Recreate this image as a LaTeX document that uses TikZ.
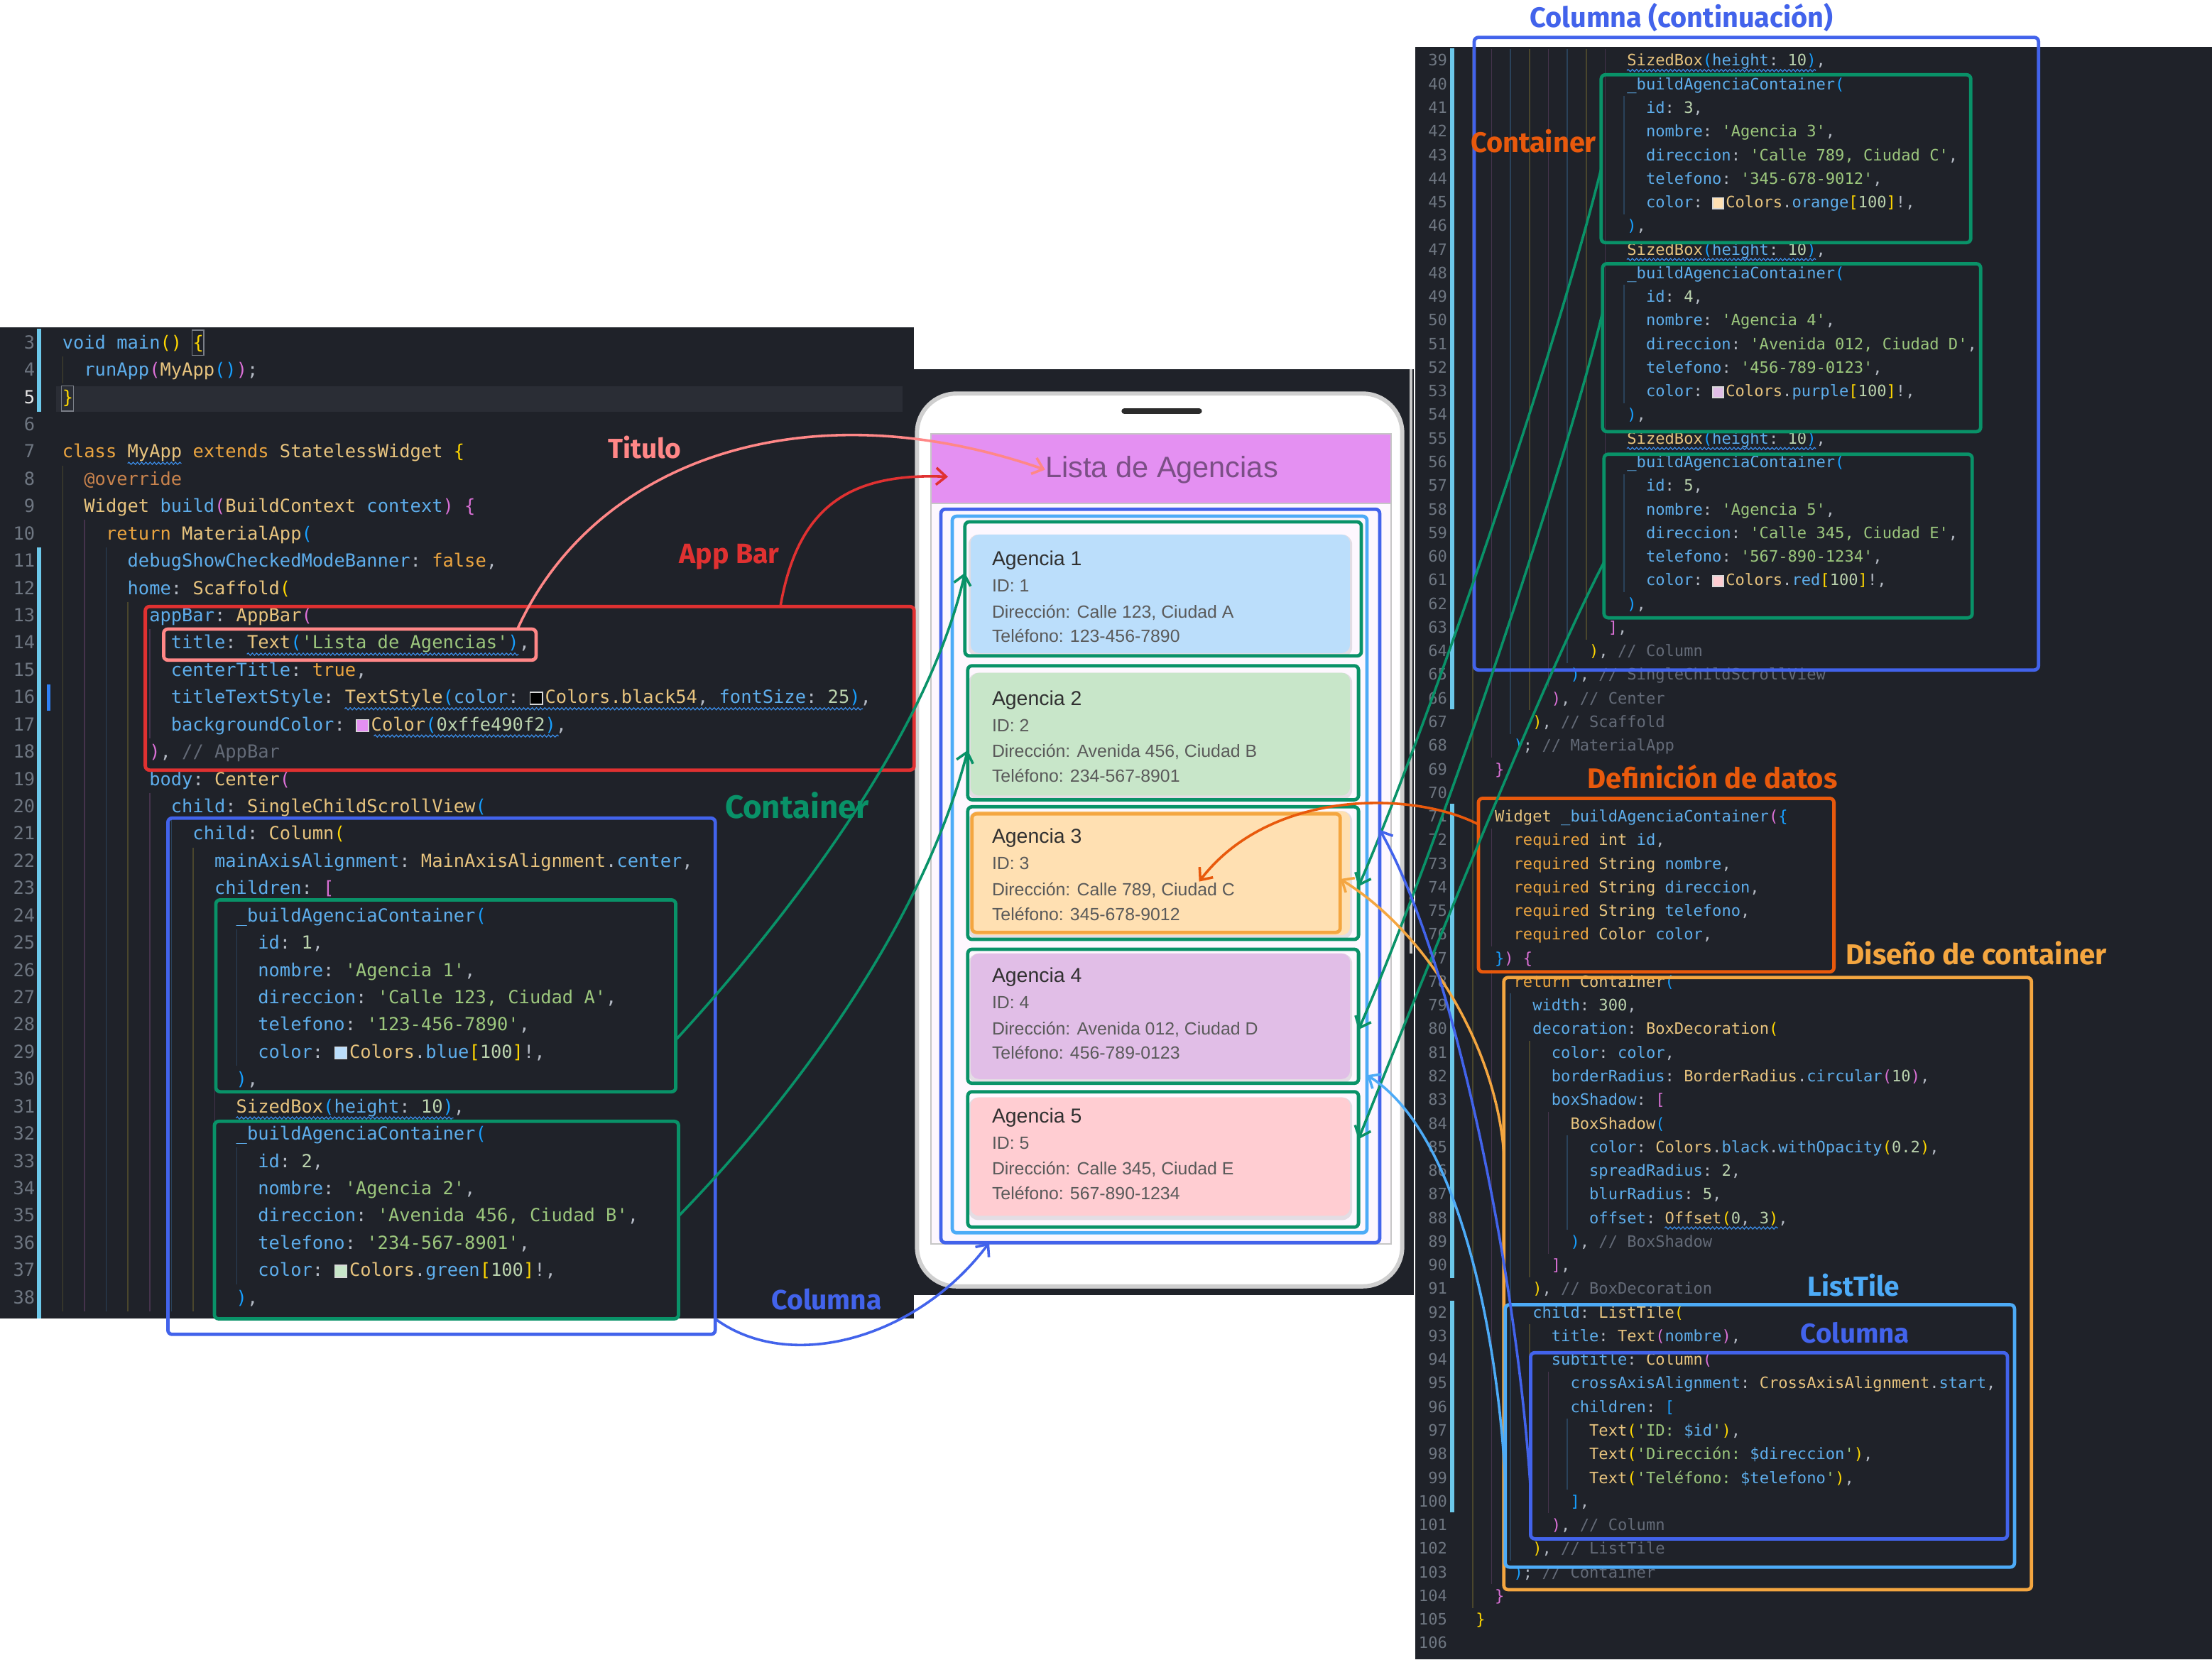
\documentclass[tikz,border=0pt]{standalone}
\usepackage{fontspec}
\usepackage{graphicx}
\setmonofont{DejaVu Sans Mono}
\newfontfamily\handfont{Fira Sans}
\newfontfamily\uifont{Liberation Sans}
\usetikzlibrary{arrows.meta,calc,decorations.pathmorphing}

\definecolor{codebg}{HTML}{1F2229}
\definecolor{curline}{HTML}{2A2D35}
\definecolor{cid}{HTML}{5EAEEC}
\definecolor{ctype}{HTML}{E8C47E}
\definecolor{ckw}{HTML}{ECA540}
\definecolor{cstr}{HTML}{9CC77D}
\definecolor{cnum}{HTML}{BBD3AE}
\definecolor{ccom}{HTML}{646B78}
\definecolor{ctext}{HTML}{B4BAC4}
\definecolor{cann}{HTML}{C9834D}
\definecolor{bgold}{HTML}{FFD700}
\definecolor{borch}{HTML}{DA70D6}
\definecolor{bblue}{HTML}{179FFF}
\definecolor{lnum}{HTML}{6E7681}
\definecolor{lnumact}{HTML}{E6E6E6}
\definecolor{cbar}{HTML}{6CC8EA}
\definecolor{cbartwo}{HTML}{2F81F7}
\definecolor{ggold}{HTML}{4A462C}
\definecolor{gpur}{HTML}{45334C}
\definecolor{gblu}{HTML}{2A425A}
\definecolor{swb}{HTML}{D8D8D8}
\definecolor{wavyc}{HTML}{3B8EEA}
\definecolor{matchc}{HTML}{7A7F88}
\definecolor{csalmon}{HTML}{FF8787}
\definecolor{cred}{HTML}{E03131}
\definecolor{cgreen}{HTML}{099268}
\definecolor{cblue}{HTML}{4263EB}
\definecolor{clblue}{HTML}{4DABF7}
\definecolor{corange}{HTML}{E8590C}
\definecolor{clorange}{HTML}{F4A640}
\definecolor{appbarc}{HTML}{E490F2}
\definecolor{apptitlec}{HTML}{7B4F86}
\definecolor{bodyc}{HTML}{FDF7FE}
\definecolor{phoneedge}{HTML}{CFCFCF}
\definecolor{notchc}{HTML}{2B2B2B}
\definecolor{c1fill}{HTML}{BBDEFB}
\definecolor{c2fill}{HTML}{C8E6C9}
\definecolor{c3fill}{HTML}{FFE0B2}
\definecolor{c4fill}{HTML}{E1BEE7}
\definecolor{c5fill}{HTML}{FFCDD2}
\definecolor{ctitlec}{HTML}{303030}
\definecolor{csubc}{HTML}{5A5A5A}
\definecolor{stripc}{HTML}{C8C8C8}

\newcommand\kB[1]{\textcolor{cid}{#1}}
\newcommand\kY[1]{\textcolor{ctype}{#1}}
\newcommand\kK[1]{\textcolor{ckw}{#1}}
\newcommand\kS[1]{\textcolor{cstr}{#1}}
\newcommand\kN[1]{\textcolor{cnum}{#1}}
\newcommand\kC[1]{\textcolor{ccom}{#1}}
\newcommand\kA[1]{\textcolor{cann}{#1}}
\newcommand\bG[1]{\textcolor{bgold}{#1}}
\newcommand\bO[1]{\textcolor{borch}{#1}}
\newcommand\bU[1]{\textcolor{bblue}{#1}}
\newcommand\sw[1]{\raisebox{-0.3pt}{\setlength{\fboxsep}{0pt}\setlength{\fboxrule}{0.7pt}\fcolorbox{swb}{#1}{\rule{0pt}{0.62em}\hspace{0.62em}}}\hspace{0.12em}}

\newcommand\lcode[3]{\node[codeL] (l#1) at ({44+#2*7.705},{243+(#1-3)*19.343+4.3}) {#3};}
\newcommand\rcode[3]{\node[codeR] (r#1) at ({1046+#2*6.7},{43+(#1-39)*16.746+3.8}) {#3};}
\newcommand\gL[4]{\draw[guide,#4] ({44.5+#1*15.41},{243+(#2-3)*19.343-9.7}) -- ({44.5+#1*15.41},{243+(#3-3)*19.343+9.7});}
\newcommand\gR[4]{\draw[guide,#4] ({1044+#1*13.4},{43+(#2-39)*16.746-8.4}) -- ({1044+#1*13.4},{43+(#3-39)*16.746+8.4});}
\newcommand\bx[6]{\node[#6,anchor=north west,minimum width={#4pt-#2pt},minimum height={#5pt-#3pt},inner sep=0pt,outer sep=0pt] (#1) at (#2,#3) {};}
\newcommand\crd[4]{%
  \node[ctitle] (t#1) at (703,{#2+5}) {Agencia #1};
  \node[csub] (i#1) at (703,{#2+19+4.5}) {ID: #1};
  \node[csub] (d#1) at (703,{#2+37.5+4.5}) {Dirección: #3};
  \node[csub] (p#1) at (703,{#2+55+4.5}) {Teléfono: #4};}
\newcommand\shd[4]{\fill[black,opacity=0.10,rounded corners=7pt] ({#1-1.5},{#2}) rectangle ({#3+1.5},{#4+3});}

\begin{document}
\begin{tikzpicture}[x=1pt,y=-1pt,
  codeL/.style={anchor=base west, inner sep=0pt, text=ctext, font=\ttfamily\fontsize{12.8}{15}\selectfont},
  codeR/.style={anchor=base west, inner sep=0pt, text=ctext, font=\ttfamily\fontsize{11.13}{13}\selectfont},
  lnumL/.style={anchor=base east, inner sep=0pt, text=lnum, font=\ttfamily\fontsize{12.8}{15}\selectfont},
  lnumR/.style={anchor=base east, inner sep=0pt, text=lnum, font=\ttfamily\fontsize{11.13}{13}\selectfont},
  outl/.style={draw, line width=2.4pt, rounded corners=3pt},
  lab/.style={inner sep=0pt, font=\handfont\bfseries},
  conn/.style={line width=1.8pt, -{Straight Barb[length=7pt,width=12pt]}},
  guide/.style={line width=0.8pt},
  wavy/.style={wavyc, line width=0.6pt, decorate, decoration={snake, segment length=3pt, amplitude=0.8pt}},
  ctitle/.style={anchor=base west, inner sep=0pt, text=ctitlec, font=\uifont\fontsize{14.3}{16}\selectfont},
  csub/.style={anchor=base west, inner sep=0pt, text=csubc, font=\uifont\fontsize{12.5}{14}\selectfont}]

\useasboundingbox (0,0) rectangle (1568,1176.4);
\fill[white] (0,0) rectangle (1568,1176.4);

% panels
\fill[codebg] (0,232) rectangle (648,935);
\fill[codebg] (648,262) rectangle (1002,918);
\fill[codebg] (1003,33) rectangle (1568,1176.4);
\fill[curline] (40,274) rectangle (640,292);
\draw[stripc,line width=2pt] (1000,262) -- (1000,676);

% change bars
\fill[cbar] (26,233) rectangle (29,292);
\fill[cbar] (26,388) rectangle (29,935);
\fill[cbartwo] (33,485) rectangle (35.5,504);
\fill[cbar] (1028,34) rectangle (1031,503);
\fill[cbar] (1028,570) rectangle (1031,906);
\fill[cbar] (1028,922) rectangle (1031,1072);

% indent guides left
\gL{0}{4}{4}{ggold}
\gL{0}{8}{38}{ggold}
\gL{1}{10}{38}{gpur}
\gL{2}{11}{38}{gblu}
\gL{3}{13}{38}{ggold}
\gL{4}{14}{17}{gpur}
\gL{4}{20}{38}{gpur}
\gL{5}{21}{38}{gblu}
\gL{6}{22}{38}{ggold}
\gL{7}{24}{38}{gpur}
\gL{8}{25}{29}{gblu}
\gL{8}{33}{37}{gblu}
% indent guides right
\gR{0}{39}{104}{ggold}
\gR{1}{39}{68}{gpur}
\gR{2}{39}{67}{gblu}
\gR{3}{39}{66}{ggold}
\gR{4}{39}{65}{gpur}
\gR{5}{39}{64}{gblu}
\gR{6}{39}{63}{ggold}
\gR{7}{39}{62}{gpur}
\gR{8}{41}{45}{gblu}
\gR{8}{49}{53}{gblu}
\gR{8}{57}{61}{gblu}
\gR{1}{72}{76}{gpur}
\gR{1}{78}{103}{gpur}
\gR{2}{79}{102}{gblu}
\gR{3}{81}{90}{ggold}
\gR{3}{93}{101}{ggold}
\gR{4}{84}{89}{gpur}
\gR{4}{95}{100}{gpur}
\gR{5}{85}{88}{gblu}
\gR{5}{97}{99}{gblu}

% bracket match marks
\draw[matchc,line width=0.8pt] (136.2,234) rectangle (144.6,252);
\draw[matchc,line width=0.8pt] (43.6,273.5) rectangle (52,291.5);

% line numbers
\foreach \n in {3,4,6,7,...,38} {\node[lnumL] (nl\n) at (25,{243+(\n-3)*19.343+4.3}) {\n};}
\node[lnumL,text=lnumact] (nl5) at (25,{243+2*19.343+4.3}) {5};
\foreach \n in {39,...,106} {\node[lnumR] (nr\n) at (1026,{43+(\n-39)*16.746+3.8}) {\n};}

% left code
\lcode{3}{0}{\kB{void} \kB{main}\bG{()} \bG{\{}}
\lcode{4}{2}{\kB{runApp}\bO{(}\kY{MyApp}\bU{()}\bO{)};}
\lcode{5}{0}{\bG{\}}}
\lcode{7}{0}{\kK{class} \kY{MyApp} \kK{extends} \kY{StatelessWidget} \bG{\{}}
\lcode{8}{2}{\kA{@override}}
\lcode{9}{2}{\kY{Widget} \kB{build}\bO{(}\kY{BuildContext} \kB{context}\bO{)} \bO{\{}}
\lcode{10}{4}{\kK{return} \kY{MaterialApp}\bU{(}}
\lcode{11}{6}{\kB{debugShowCheckedModeBanner}: \kK{false},}
\lcode{12}{6}{\kB{home}: \kY{Scaffold}\bG{(}}
\lcode{13}{8}{\kB{appBar}: \kY{AppBar}\bO{(}}
\lcode{14}{10}{\kB{title}: \kY{Text}\bU{(}\kS{'Lista de Agencias'}\bU{)},}
\lcode{15}{10}{\kB{centerTitle}: \kK{true},}
\lcode{16}{10}{\kB{titleTextStyle}: \kY{TextStyle}\bU{(}\kB{color}: \sw{black}\kY{Colors.black54}, \kB{fontSize}: \kN{25}\bU{)},}
\lcode{17}{10}{\kB{backgroundColor}: \sw{appbarc}\kY{Color}\bU{(}\kN{0xffe490f2}\bU{)},}
\lcode{18}{8}{\bO{)}, \kC{// AppBar}}
\lcode{19}{8}{\kB{body}: \kY{Center}\bO{(}}
\lcode{20}{10}{\kB{child}: \kY{SingleChildScrollView}\bU{(}}
\lcode{21}{12}{\kB{child}: \kY{Column}\bG{(}}
\lcode{22}{14}{\kB{mainAxisAlignment}: \kY{MainAxisAlignment}.\kB{center},}
\lcode{23}{14}{\kB{children}: \bO{[}}
\lcode{24}{16}{\kB{\_buildAgenciaContainer}\bU{(}}
\lcode{25}{18}{\kB{id}: \kN{1},}
\lcode{26}{18}{\kB{nombre}: \kS{'Agencia 1'},}
\lcode{27}{18}{\kB{direccion}: \kS{'Calle 123, Ciudad A'},}
\lcode{28}{18}{\kB{telefono}: \kS{'123-456-7890'},}
\lcode{29}{18}{\kB{color}: \sw{c1fill}\kY{Colors}.\kB{blue}\bG{[}\kN{100}\bG{]}!,}
\lcode{30}{16}{\bU{)},}
\lcode{31}{16}{\kY{SizedBox}\bU{(}\kB{height}: \kN{10}\bU{)},}
\lcode{32}{16}{\kB{\_buildAgenciaContainer}\bU{(}}
\lcode{33}{18}{\kB{id}: \kN{2},}
\lcode{34}{18}{\kB{nombre}: \kS{'Agencia 2'},}
\lcode{35}{18}{\kB{direccion}: \kS{'Avenida 456, Ciudad B'},}
\lcode{36}{18}{\kB{telefono}: \kS{'234-567-8901'},}
\lcode{37}{18}{\kB{color}: \sw{c2fill}\kY{Colors}.\kB{green}\bG{[}\kN{100}\bG{]}!,}
\lcode{38}{16}{\bU{)},}

% right code
\rcode{39}{16}{\kY{SizedBox}\bU{(}\kB{height}: \kN{10}\bU{)},}
\rcode{40}{16}{\kB{\_buildAgenciaContainer}\bU{(}}
\rcode{41}{18}{\kB{id}: \kN{3},}
\rcode{42}{18}{\kB{nombre}: \kS{'Agencia 3'},}
\rcode{43}{18}{\kB{direccion}: \kS{'Calle 789, Ciudad C'},}
\rcode{44}{18}{\kB{telefono}: \kS{'345-678-9012'},}
\rcode{45}{18}{\kB{color}: \sw{c3fill}\kY{Colors}.\kB{orange}\bG{[}\kN{100}\bG{]}!,}
\rcode{46}{16}{\bU{)},}
\rcode{47}{16}{\kY{SizedBox}\bU{(}\kB{height}: \kN{10}\bU{)},}
\rcode{48}{16}{\kB{\_buildAgenciaContainer}\bU{(}}
\rcode{49}{18}{\kB{id}: \kN{4},}
\rcode{50}{18}{\kB{nombre}: \kS{'Agencia 4'},}
\rcode{51}{18}{\kB{direccion}: \kS{'Avenida 012, Ciudad D'},}
\rcode{52}{18}{\kB{telefono}: \kS{'456-789-0123'},}
\rcode{53}{18}{\kB{color}: \sw{c4fill}\kY{Colors}.\kB{purple}\bG{[}\kN{100}\bG{]}!,}
\rcode{54}{16}{\bU{)},}
\rcode{55}{16}{\kY{SizedBox}\bU{(}\kB{height}: \kN{10}\bU{)},}
\rcode{56}{16}{\kB{\_buildAgenciaContainer}\bU{(}}
\rcode{57}{18}{\kB{id}: \kN{5},}
\rcode{58}{18}{\kB{nombre}: \kS{'Agencia 5'},}
\rcode{59}{18}{\kB{direccion}: \kS{'Calle 345, Ciudad E'},}
\rcode{60}{18}{\kB{telefono}: \kS{'567-890-1234'},}
\rcode{61}{18}{\kB{color}: \sw{c5fill}\kY{Colors}.\kB{red}\bG{[}\kN{100}\bG{]}!,}
\rcode{62}{16}{\bU{)},}
\rcode{63}{14}{\bO{]},}
\rcode{64}{12}{\bG{)}, \kC{// Column}}
\rcode{65}{10}{\bU{)}, \kC{// SingleChildScrollView}}
\rcode{66}{8}{\bO{)}, \kC{// Center}}
\rcode{67}{6}{\bG{)}, \kC{// Scaffold}}
\rcode{68}{4}{\bU{)}; \kC{// MaterialApp}}
\rcode{69}{2}{\bO{\}}}
\rcode{71}{2}{\kY{Widget} \kB{\_buildAgenciaContainer}\bO{(}\bU{\{}}
\rcode{72}{4}{\kK{required} \kY{int} \kB{id},}
\rcode{73}{4}{\kK{required} \kY{String} \kB{nombre},}
\rcode{74}{4}{\kK{required} \kY{String} \kB{direccion},}
\rcode{75}{4}{\kK{required} \kY{String} \kB{telefono},}
\rcode{76}{4}{\kK{required} \kY{Color} \kB{color},}
\rcode{77}{2}{\bU{\}}\bO{)} \bO{\{}}
\rcode{78}{4}{\kK{return} \kY{Container}\bU{(}}
\rcode{79}{6}{\kB{width}: \kN{300},}
\rcode{80}{6}{\kB{decoration}: \kY{BoxDecoration}\bG{(}}
\rcode{81}{8}{\kB{color}: \kB{color},}
\rcode{82}{8}{\kB{borderRadius}: \kY{BorderRadius}.\kB{circular}\bO{(}\kN{10}\bO{)},}
\rcode{83}{8}{\kB{boxShadow}: \bO{[}}
\rcode{84}{10}{\kY{BoxShadow}\bU{(}}
\rcode{85}{12}{\kB{color}: \kY{Colors}.\kB{black}.\kB{withOpacity}\bG{(}\kN{0.2}\bG{)},}
\rcode{86}{12}{\kB{spreadRadius}: \kN{2},}
\rcode{87}{12}{\kB{blurRadius}: \kN{5},}
\rcode{88}{12}{\kB{offset}: \kY{Offset}\bG{(}\kN{0}, \kN{3}\bG{)},}
\rcode{89}{10}{\bU{)}, \kC{// BoxShadow}}
\rcode{90}{8}{\bO{]},}
\rcode{91}{6}{\bG{)}, \kC{// BoxDecoration}}
\rcode{92}{6}{\kB{child}: \kY{ListTile}\bG{(}}
\rcode{93}{8}{\kB{title}: \kY{Text}\bO{(}\kB{nombre}\bO{)},}
\rcode{94}{8}{\kB{subtitle}: \kY{Column}\bO{(}}
\rcode{95}{10}{\kB{crossAxisAlignment}: \kY{CrossAxisAlignment}.\kB{start},}
\rcode{96}{10}{\kB{children}: \bU{[}}
\rcode{97}{12}{\kY{Text}\bG{(}\kS{'ID: }\kB{\$id}\kS{'}\bG{)},}
\rcode{98}{12}{\kY{Text}\bG{(}\kS{'Dirección: }\kB{\$direccion}\kS{'}\bG{)},}
\rcode{99}{12}{\kY{Text}\bG{(}\kS{'Teléfono: }\kB{\$telefono}\kS{'}\bG{)},}
\rcode{100}{10}{\bU{]},}
\rcode{101}{8}{\bO{)}, \kC{// Column}}
\rcode{102}{6}{\bG{)}, \kC{// ListTile}}
\rcode{103}{4}{\bU{)}; \kC{// Container}}
\rcode{104}{2}{\bO{\}}}
\rcode{105}{0}{\bG{\}}}

% wavy underlines
\draw[wavy] (90.5,328.5) -- (128.7,328.5);
\draw[wavy] (175,463.8) -- (367.6,463.8);
\draw[wavy] (244.3,502.5) -- (611.7,502.5);
\draw[wavy] (265,521.8) -- (396,521.8);
\draw[wavy] (167.3,792.6) -- (321.4,792.6);
\draw[wavy] (1153.2,50) -- (1287.2,50);
\draw[wavy] (1153.2,184) -- (1287.2,184);
\draw[wavy] (1153.2,318) -- (1287.2,318);
\draw[wavy] (1180,870.6) -- (1260.4,870.6);

% phone
\bx{phone}{650}{279}{994}{912}{draw=phoneedge,line width=3pt,fill=white,rounded corners=28pt}
\draw[notchc,line width=4pt,line cap=round] (797,291.5) -- (850,291.5);
\bx{appbar}{660}{307.5}{986}{357}{fill=appbarc,draw=gray!45,line width=0.8pt}
\bx{body}{660}{357}{986}{882}{fill=bodyc,draw=gray!45,line width=0.8pt}
\node[inner sep=0pt,text=apptitlec,font=\uifont\fontsize{20.9}{24}\selectfont] (apptitle) at (823.5,333) {Lista de Agencias};
\shd{688}{379}{957}{463}
\shd{688}{477}{957}{564}
\shd{688}{575}{957}{663}
\shd{688}{676}{957}{765}
\shd{688}{778}{957}{862}
\bx{c1f}{688}{379}{957}{463}{fill=c1fill,rounded corners=6pt}
\bx{c2f}{688}{477}{957}{564}{fill=c2fill,rounded corners=6pt}
\bx{c3f}{688}{575}{957}{663}{fill=c3fill,rounded corners=6pt}
\bx{c4f}{688}{676}{957}{765}{fill=c4fill,rounded corners=6pt}
\bx{c5f}{688}{778}{957}{862}{fill=c5fill,rounded corners=6pt}
\crd{1}{396}{Calle 123, Ciudad A}{123-456-7890}
\crd{2}{495}{Avenida 456, Ciudad B}{234-567-8901}
\crd{3}{593}{Calle 789, Ciudad C}{345-678-9012}
\crd{4}{691.5}{Avenida 012, Ciudad D}{456-789-0123}
\crd{5}{791}{Calle 345, Ciudad E}{567-890-1234}
\bx{outerblue}{667}{361}{978}{881}{outl,draw=cblue}
\bx{innerblue}{675}{366}{969}{874}{outl,draw=clblue}
\bx{c1}{684}{370}{965}{465}{outl,draw=cgreen}
\bx{c2}{686}{472}{963}{567}{outl,draw=cgreen}
\bx{c3}{686}{572}{963}{666}{outl,draw=cgreen}
\bx{c4}{686}{673}{963}{768}{outl,draw=cgreen}
\bx{c5}{686}{774}{963}{870}{outl,draw=cgreen}
\bx{c3o}{689}{577}{950}{661}{outl,draw=clorange}

% code boxes left
\bx{appbarbox}{103}{430}{648}{546}{outl,draw=cred}
\bx{titlebox}{116}{446}{380}{468}{outl,draw=csalmon}
\bx{leftcol}{119}{580}{507}{946}{outl,draw=cblue}
\bx{g1}{153}{638}{479}{774}{outl,draw=cgreen}
\bx{g2}{152}{795}{481}{935}{outl,draw=cgreen}
% code boxes right
\bx{rcol}{1045}{26.5}{1445}{475}{outl,draw=cblue}
\bx{g3}{1135}{53}{1397}{172}{outl,draw=cgreen}
\bx{g4}{1136}{187}{1404}{306}{outl,draw=cgreen}
\bx{g5}{1137}{322}{1398}{438}{outl,draw=cgreen}
\bx{defbox}{1048}{566}{1300}{689}{outl,draw=corange}
\bx{disbox}{1066}{693}{1440}{1127}{outl,draw=clorange}
\bx{ltbox}{1067}{925}{1428}{1111}{outl,draw=clblue}
\bx{colbox}{1085}{959}{1423}{1091}{outl,draw=cblue}

% labels
\node[lab,text=csalmon] (lbTitulo) at (457,317) {\resizebox{52pt}{!}{Titulo}};
\node[lab,text=cred] (lbAppBar) at (517,395) {\resizebox{71pt}{!}{App Bar}};
\node[lab,text=cgreen] (lbCont) at (565,571) {\resizebox{102pt}{!}{Container}};
\node[lab,text=cblue] (lbColL) at (586,921) {\resizebox{78pt}{!}{Columna}};
\node[lab,text=cblue] (lbColC) at (1192,12.5) {\resizebox{215pt}{!}{Columna (continuación)}};
\node[lab,text=corange] (lbContR) at (1087,100) {\resizebox{89pt}{!}{Container}};
\node[lab,text=corange] (lbDef) at (1214,551) {\resizebox{177pt}{!}{Definición de datos}};
\node[lab,text=clorange] (lbDis) at (1401,676) {\resizebox{185pt}{!}{Diseño de container}};
\node[lab,text=clblue] (lbLT) at (1314,911) {\resizebox{65pt}{!}{ListTile}};
\node[lab,text=cblue] (lbColR) at (1315,945) {\resizebox{77pt}{!}{Columna}};

% connector end points
\coordinate (abtip) at (672,338);
\coordinate (deftip) at (850,625);

% connectors
\draw[conn,csalmon] ($(titlebox.north west)!0.95!(titlebox.north east)$) .. controls +(53,-117) and +(-174,-60) .. (apptitle.west);
\draw[conn,cred] ($(appbarbox.north west)!0.826!(appbarbox.north east)$) .. controls +(12,-69) and +(-72,-3) .. (abtip);
\draw[conn,cgreen] ($(g1.north east)!0.73!(g1.south east)$) .. controls +(80,-87) and +(-26,114) .. ($(c1.north west)!0.38!(c1.south west)$);
\draw[conn,cgreen] ($(g2.north east)!0.48!(g2.south east)$) .. controls +(99,-102) and +(-28,108) .. ($(c2.north west)!0.63!(c2.south west)$);
\draw[conn,cblue] ($(leftcol.north east)!0.97!(leftcol.south east)$) .. controls +(53,39) and +(-51,68) .. ($(outerblue.south west)!0.11!(outerblue.south east)$);
\draw[conn,cgreen] ($(g3.north west)!0.56!(g3.south west)$) .. controls +(-35,140) and +(47,-108) .. ($(c3.north east)!0.6!(c3.south east)$);
\draw[conn,cgreen] ($(g4.north west)!0.29!(g4.south west)$) .. controls +(-26,108) and +(57,-130) .. ($(c4.north east)!0.6!(c4.south east)$);
\draw[conn,cgreen] ($(g5.north west)!0.66!(g5.south west)$) .. controls +(-37,71) and +(67,-168) .. ($(c5.north east)!0.35!(c5.south east)$);
\draw[conn,corange] ($(defbox.north west)!0.15!(defbox.south west)$) .. controls +(-48,-24.5) and +(50,-65) .. (deftip);
\draw[conn,clorange] ($(disbox.north west)!0.286!(disbox.south west)$) .. controls +(-6,-77) and +(60,37) .. ($(c3o.north east)!0.55!(c3o.south east)$);
\draw[conn,cblue] ($(colbox.north west)!0.74!(colbox.south west)$) .. controls +(-10,-157) and +(52,92) .. ($(outerblue.north east)!0.437!(outerblue.south east)$);
\draw[conn,clblue] ($(ltbox.north west)!0.66!(ltbox.south west)$) .. controls +(-7,-118) and +(61,38) .. ($(innerblue.north east)!0.78!(innerblue.south east)$);
\end{tikzpicture}
\end{document}
